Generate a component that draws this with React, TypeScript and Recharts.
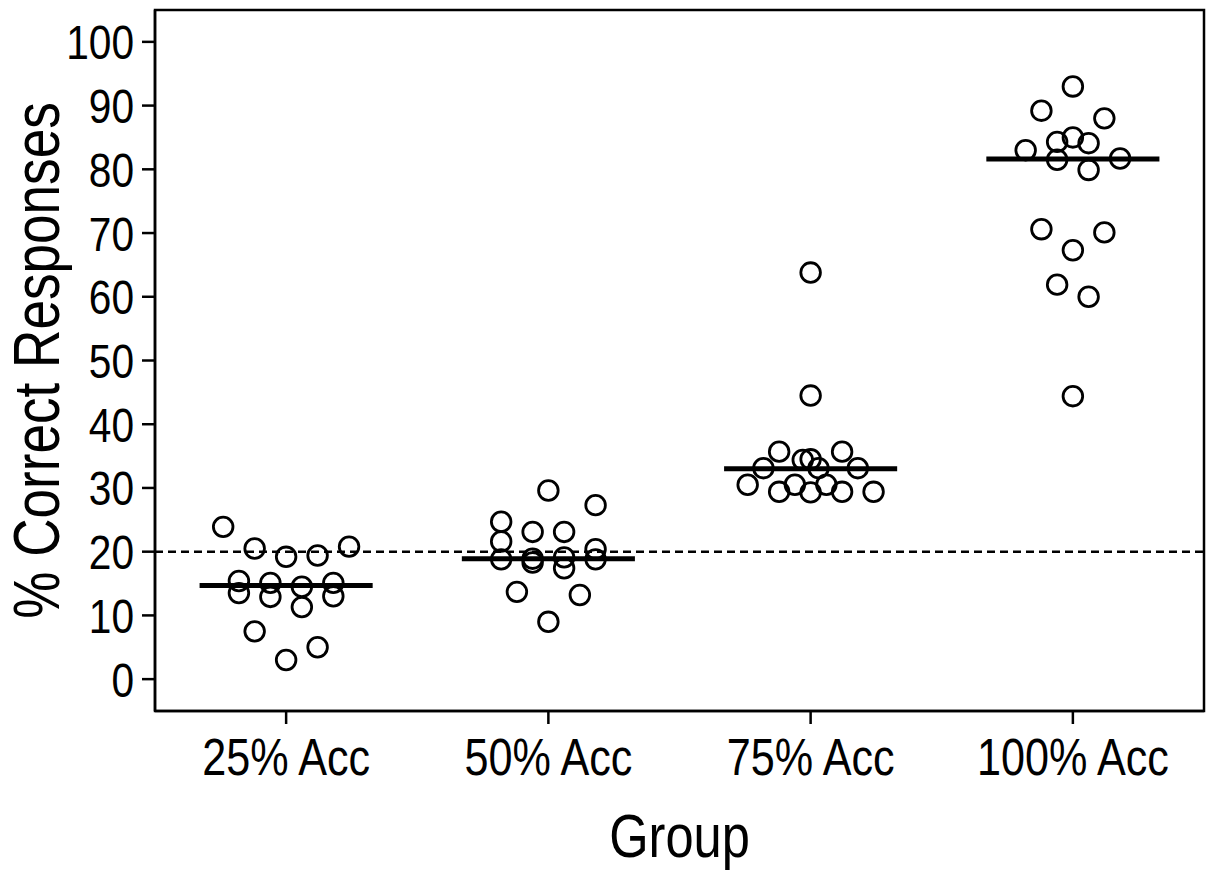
import {
  ScatterChart,
  Scatter,
  XAxis,
  YAxis,
  ReferenceLine,
  ReferenceArea,
} from "recharts";

const groups = ["25% Acc", "50% Acc", "75% Acc", "100% Acc"];

const acc25 = [23.9, 20.5, 19.2, 19.4, 20.8, 15.4, 15.1, 14.5, 15.1, 13.5, 12.9, 13.0, 11.3, 7.5, 5.0, 3.0];
const acc50 = [29.6, 27.3, 24.7, 23.1, 23.1, 21.6, 20.4, 18.8, 18.9, 18.3, 19.1, 17.4, 18.8, 13.7, 13.2, 9.0];
const acc75 = [63.8, 44.5, 35.7, 35.7, 34.4, 34.5, 33.1, 33.1, 33.1, 30.5, 30.5, 30.5, 29.4, 29.3, 29.4, 29.4];
const acc100 = [93.0, 89.2, 88.0, 85.0, 84.3, 84.1, 83.0, 81.5, 81.7, 79.9, 70.6, 70.1, 67.3, 61.9, 60.0, 44.4];

// beeswarm slot of each point (in circle half-widths), same order as the values
const slots25 = [-4, -2, 0, 2, 4, -3, -1, 1, 3, -3, -1, 3, 1, -2, 2, 0];
const slots50 = [0, 3, -3, -1, 1, -3, 3, -3, -1, -1, 1, 1, 3, -2, 2, 0];
const slots75 = [0, 0, -2, 2, -0.5, 0, -3, 0.5, 3, -4, -1, 1, -2, 0, 2, 4];
const slots100 = [0, -2, 2, 0, -1, 1, -3, -1, 3, 1, -2, 2, 0, -1, 1, 0];

const groupMeans = [14.7, 18.9, 33.0, 81.6];
const chanceLevel = 20;

const yTicks = [0, 10, 20, 30, 40, 50, 60, 70, 80, 90, 100];

const SLOT = 0.06;
// no narrow font installed: squeeze Liberation Sans (Arial metrics) sideways
const FONT = "'Liberation Sans', Arial, sans-serif";
const SQUEEZE = 0.83;

const series = [acc25, acc50, acc75, acc100].map((vals, gi) => {
  const slots = [slots25, slots50, slots75, slots100][gi];
  return vals.map((v, i) => ({ x: gi + 1 + slots[i] * SLOT, y: v }));
});

function NarrowText({
  x,
  y,
  size,
  anchor,
  rotate = 0,
  children,
}: {
  x: number;
  y: number;
  size: number;
  anchor: "start" | "middle" | "end";
  rotate?: number;
  children: React.ReactNode;
}) {
  return (
    <g transform={`translate(${x},${y}) rotate(${rotate}) scale(${SQUEEZE},1)`}>
      <text x={0} y={0} textAnchor={anchor} fontFamily={FONT} fontSize={size} fill="#000">
        {children}
      </text>
    </g>
  );
}

// eslint-disable-next-line @typescript-eslint/no-explicit-any
const OpenCircle = (props: any) => (
  <circle cx={props.cx} cy={props.cy} r={9.8} fill="none" stroke="#000" strokeWidth={2.8} />
);

// eslint-disable-next-line @typescript-eslint/no-explicit-any
const XTick = (props: any) => {
  const { x, y, payload } = props;
  return (
    <NarrowText x={x} y={y + 51} size={52} anchor="middle">
      {groups[payload.value - 1]}
    </NarrowText>
  );
};

// eslint-disable-next-line @typescript-eslint/no-explicit-any
const YTick = (props: any) => {
  const { x, y, payload } = props;
  return (
    <NarrowText x={x + 1} y={y + 17.5} size={49} anchor="end">
      {payload.value}
    </NarrowText>
  );
};

// eslint-disable-next-line @typescript-eslint/no-explicit-any
const XTitle = (props: any) => {
  const vb = props.viewBox;
  return (
    <NarrowText x={vb.x + vb.width / 2} y={vb.y + 146} size={61} anchor="middle">
      Group
    </NarrowText>
  );
};

// eslint-disable-next-line @typescript-eslint/no-explicit-any
const YTitle = (props: any) => {
  const vb = props.viewBox;
  return (
    <NarrowText x={59} y={vb.y + vb.height / 2} size={64} anchor="middle" rotate={-90}>
      % Correct Responses
    </NarrowText>
  );
};

export default function App() {
  return (
    <div style={{ position: "absolute", left: 0, top: 0, background: "#fff" }}>
      <ScatterChart
        width={1206}
        height={880}
        margin={{ top: 10, right: 2, bottom: 0, left: 0 }}
      >
        <XAxis
          dataKey="x"
          type="number"
          domain={[0.5, 4.5]}
          ticks={[1, 2, 3, 4]}
          tick={<XTick />}
          tickSize={13}
          tickMargin={0}
          height={169}
          axisLine={{ stroke: "#000", strokeWidth: 2.5 }}
          tickLine={{ stroke: "#000", strokeWidth: 2.5 }}
          allowDataOverflow
          label={<XTitle />}
        />
        <YAxis
          dataKey="y"
          type="number"
          domain={[-5, 105]}
          ticks={yTicks}
          tick={<YTick />}
          tickSize={13}
          tickMargin={9}
          width={155}
          axisLine={{ stroke: "#000", strokeWidth: 2.5 }}
          tickLine={{ stroke: "#000", strokeWidth: 2.5 }}
          allowDataOverflow
          label={<YTitle />}
        />
        <ReferenceArea
          x1={0.5}
          x2={4.5}
          y1={-5}
          y2={105}
          fill="none"
          stroke="#000"
          strokeWidth={2.5}
          fillOpacity={0}
        />
        <ReferenceLine
          y={chanceLevel}
          stroke="#000"
          strokeWidth={2.4}
          strokeDasharray="8 5"
        />
        {groupMeans.map((m, gi) => (
          <ReferenceLine
            key={gi}
            segment={[
              { x: gi + 1 - 0.33, y: m },
              { x: gi + 1 + 0.33, y: m },
            ]}
            stroke="#000"
            strokeWidth={5}
          />
        ))}
        {series.map((d, gi) => (
          <Scatter
            key={gi}
            data={d}
            shape={<OpenCircle />}
            isAnimationActive={false}
          />
        ))}
      </ScatterChart>
    </div>
  );
}
